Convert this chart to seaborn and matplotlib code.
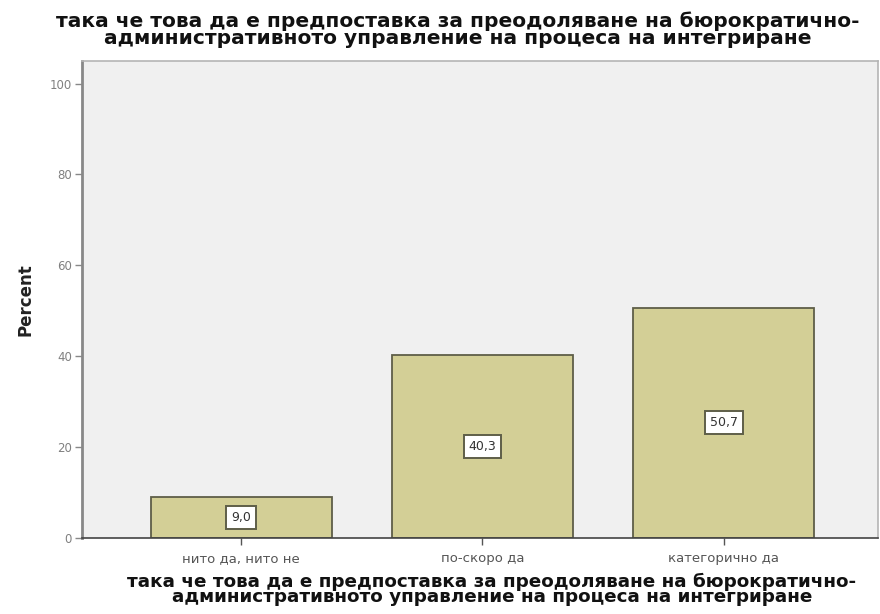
import matplotlib
matplotlib.use("Agg")
import matplotlib.pyplot as plt
import seaborn as sns
import pandas as pd

categories = ["нито да, нито не", "по-скоро да", "категорично да"]
percent = [9.0, 40.3, 50.7]
yticks = [0, 20, 40, 60, 80, 100]
title = ("така че това да е предпоставка за преодоляване на бюрократично-\n"
         "административното управление на процеса на интегриране")

sns.set_style("white")
plt.rcParams["font.family"] = ["DejaVu Sans"]

df = pd.DataFrame({"cat": categories, "pct": percent})

fig = plt.figure(figsize=(8.8, 6.14), dpi=100)
ax = fig.add_axes([0.093, 0.124, 0.905, 0.777])
ax.set_facecolor("#f0f0f0")

sns.barplot(data=df, x="cat", y="pct", order=categories, color="#d3cf96",
            saturation=1, width=0.75, edgecolor="#5e5e48", linewidth=1.3, ax=ax)

# value boxes in the middle of each bar, decimal comma
labels = [f"{v:.1f}".replace(".", ",") for v in percent]
ax.bar_label(ax.containers[0], labels=labels, label_type="center", fontsize=9,
             color="#333333",
             bbox=dict(boxstyle="square,pad=0.4", fc="white", ec="#5e5e48", lw=1.4))

ax.set_xlim(-0.66, 2.64)
ax.set_ylim(0, 105)
ax.set_yticks(yticks)
ax.tick_params(axis="y", direction="out", length=5, width=1, colors="#888888",
               labelsize=8.5, labelcolor="#808080", left=True, pad=2)
ax.tick_params(axis="x", direction="out", length=5, width=1, colors="#555555",
               labelsize=9.5, labelcolor="#555555", bottom=True, pad=5)

for side in ["top", "right"]:
    ax.spines[side].set_color("#b5b5b5")
    ax.spines[side].set_linewidth(1.2)
ax.spines["left"].set_color("#888888")
ax.spines["left"].set_linewidth(2)
ax.spines["bottom"].set_color("#444444")
ax.spines["bottom"].set_linewidth(1.2)

ax.set_ylabel("Percent", fontsize=12, fontweight="bold", color="#222222")
ax.yaxis.set_label_coords(-0.06, 0.5)
ax.set_xlabel(title, fontsize=13.2, fontweight="bold", color="#111111",
              linespacing=0.8)
ax.xaxis.set_label_coords(0.515, -0.073)
fig.suptitle(title, x=0.52, y=0.982, va="top", fontsize=14.5, fontweight="bold",
             color="#111111", linespacing=0.88)

fig.savefig("out.png", dpi=100, facecolor="white")
